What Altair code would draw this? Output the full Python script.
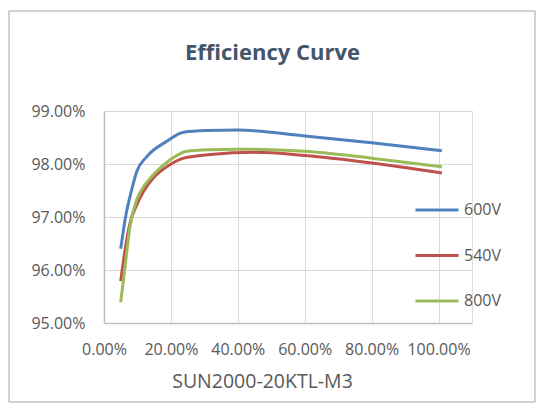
import altair as alt
import pandas as pd

# ---- data (load %, efficiency %) ----
x_600 = [5.0, 6.3, 8.3, 9.8, 12.8, 18.8, 23.8, 30.8, 40.0, 60.0, 80.0, 101.0]
y_600 = [96.40, 96.95, 97.52, 97.86, 98.14, 98.43, 98.60, 98.63, 98.64, 98.53, 98.40, 98.25]

x_540 = [5.0, 6.3, 7.8, 9.8, 11.8, 14.8, 19.8, 23.8, 31.8, 45.0, 60.0, 80.0, 101.0]
y_540 = [95.79, 96.38, 96.89, 97.23, 97.48, 97.74, 97.99, 98.11, 98.18, 98.22, 98.16, 98.02, 97.83]

x_800 = [5.0, 6.3, 7.8, 9.8, 11.8, 14.8, 19.8, 24.8, 31.8, 40.0, 60.0, 80.0, 101.0]
y_800 = [95.39, 96.07, 96.83, 97.33, 97.57, 97.80, 98.08, 98.24, 98.27, 98.28, 98.24, 98.11, 97.95]

series = ["600V", "540V", "800V"]
colors = ["#4F81BD", "#C0504D", "#9BBB59"]
x_ticks = [0.0, 0.2, 0.4, 0.6, 0.8, 1.0]
y_ticks = [0.95, 0.96, 0.97, 0.98, 0.99]

rows = []
for name, xs, ys in [("600V", x_600, y_600), ("540V", x_540, y_540), ("800V", x_800, y_800)]:
    for i, (a, b) in enumerate(zip(xs, ys)):
        rows.append({"series": name, "load": a / 100.0, "eff": b / 100.0, "i": i})
df = pd.DataFrame(rows)

FONT = "Open Sans"
GREY = "#595959"

lines = alt.Chart(df).mark_line(strokeWidth=3, interpolate="monotone").encode(
    x=alt.X("load:Q",
            scale=alt.Scale(domain=[0, 1.1], nice=False, zero=False),
            axis=alt.Axis(values=x_ticks, format=".2%", grid=True, ticks=False,
                          gridColor="#D9D9D9", domainColor="#BFBFBF", domainWidth=1.5,
                          labelFontSize=16, labelColor=GREY, labelFont=FONT,
                          labelPadding=18, labelFlush=False,
                          title="SUN2000-20KTL-M3", titleFont=FONT, titleFontSize=19.5,
                          titleFontWeight="normal", titleColor=GREY,
                          titleBaseline="alphabetic", titleAlign="center",
                          titleX=158, titleY=64)),
    y=alt.Y("eff:Q",
            scale=alt.Scale(domain=[0.95, 0.99], nice=False, zero=False),
            axis=alt.Axis(values=y_ticks, format=".2%", grid=True, ticks=False,
                          gridColor="#D9D9D9", domainColor="#BFBFBF", domainWidth=1.5,
                          labelFontSize=16, labelColor=GREY, labelFont=FONT,
                          labelPadding=19, labelFlush=False, title=None)),
    color=alt.Color("series:N",
                    scale=alt.Scale(domain=series, range=colors),
                    sort=series,
                    legend=alt.Legend(title=None, orient="none", legendX=310, legendY=76,
                                      symbolType="stroke", symbolSize=1849,
                                      symbolStrokeWidth=3, labelFontSize=16,
                                      labelFont=FONT, labelColor=GREY, labelOffset=4,
                                      rowPadding=14.5, padding=0)),
    order="i:Q",
)

border = alt.Chart(alt.Data(values=[{"k": 1}])).mark_rect(
    fill="transparent", stroke="#A6A6A6", strokeWidth=1
).encode(
    x=alt.value(-95), x2=alt.value(431), y=alt.value(-100), y2=alt.value(291)
)

chart = alt.layer(border, lines).properties(
    width=368,
    height=212,
    autosize=alt.AutoSizeParams(type="none"),
    padding={"left": 96, "top": 103, "right": 64, "bottom": 85},
    title=alt.TitleParams("Efficiency Curve", fontSize=22, fontWeight="bold",
                          color="#44546A", font=FONT, anchor="middle",
                          baseline="alphabetic", dx=-15.5, offset=-71),
).configure_view(stroke=None).configure(background="white")

chart.save("out.html", embed_options={"renderer": "svg", "actions": False})
